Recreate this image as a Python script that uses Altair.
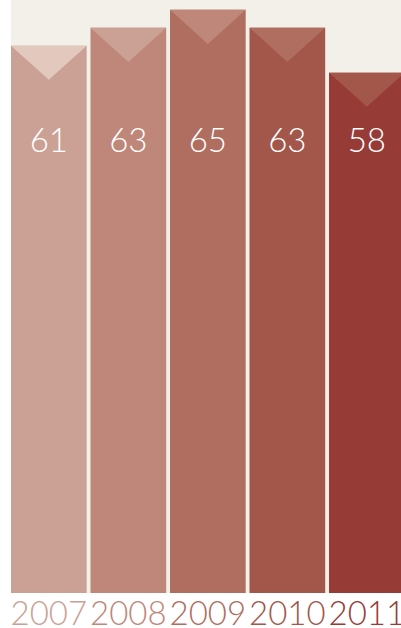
import altair as alt
import pandas as pd

# Yearly values
years = ["2007", "2008", "2009", "2010", "2011"]
values = [61, 63, 65, 63, 58]

# Bar fills, lightest to darkest, and the fill of the notch cut into each bar top
bar_colors = ["#cca195", "#bf877a", "#b06e60", "#a3564a", "#973b36"]
notch_colors = ["#e3c8bd", "#cca195", "#bf877a", "#b06e60", "#a3564a"]

df = pd.DataFrame({"year": years, "value": values})

W, H = 390, 593
FONT = "Lato"

label_expr = " : ".join(
    f"datum.value == '{y}' ? '{c}'" for y, c in zip(years, bar_colors)
) + f" : '{bar_colors[-1]}'"

x = alt.X(
    "year:O",
    sort=years,
    scale=alt.Scale(range=[0, 393.7], paddingInner=0.048, paddingOuter=0),
    axis=alt.Axis(
        title=None,
        domain=False,
        ticks=False,
        labelAngle=0,
        labelFont=FONT,
        labelFontWeight=300,
        labelFontSize=33,
        labelPadding=5,
        labelColor=alt.ExprRef(label_expr),
        labelOverlap=False,
    ),
)
y = alt.Y("value:Q", scale=alt.Scale(domain=[0, 66.1], nice=False, zero=True), axis=None)

base = alt.Chart(df).encode(x=x)

bars = base.mark_bar(clip=True).encode(
    y=y,
    color=alt.Color("year:O", scale=alt.Scale(domain=years, range=bar_colors), legend=None),
)

notches = base.mark_point(
    shape="M-1,0L1,0L0,0.9Z",
    size=75.7 ** 2,
    filled=True,
    opacity=1,
    strokeWidth=0,
    clip=True,
).encode(
    y=y,
    fill=alt.Fill("year:O", scale=alt.Scale(domain=years, range=notch_colors), legend=None),
)

labels = base.mark_text(
    font=FONT,
    fontWeight=300,
    fontSize=33,
    color="white",
    baseline="middle",
    clip=True,
).encode(y=alt.value(142), text="value:Q")

chart = (
    alt.layer(bars, notches, labels)
    .properties(
        width=W,
        height=H,
        background="white",
        padding={"left": 11, "top": 0, "right": 0, "bottom": 35},
        autosize=alt.AutoSizeParams(type="none"),
    )
    .configure_view(fill="#f2f0e8", stroke=None)
)

chart.save("out.html", embed_options={"renderer": "svg", "actions": False})
